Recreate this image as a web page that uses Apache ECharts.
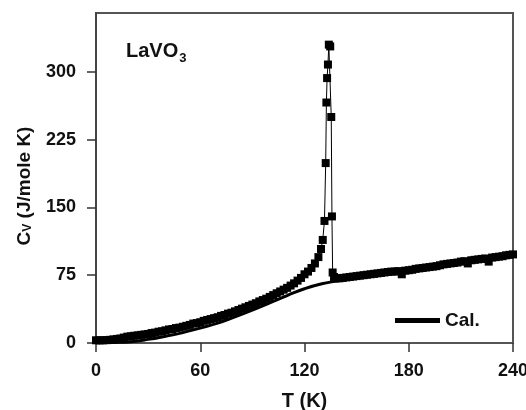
<!DOCTYPE html>
<html>
<head>
<meta charset="utf-8">
<script src="https://cdn.jsdelivr.net/npm/echarts@6/dist/echarts.min.js"></script>
<style>html,body{margin:0;padding:0;background:#fff}#c{width:526px;height:410px}</style>
</head>
<body>
<div id="c"></div>
<script>
// Measured Cv data (T in K, Cv in J/mole K)
var measT = [0,2,4,6,8,10,12,14,16,18,20,22,24,26,28,30,32,34,36,38,40,42,44,46,48,50,52,54,56,58,60,62,64,66,68,70,72,74,76,78,80,82,84,86,88,90,92,94,96,98,100,102,104,106,108,110,112,114,116,118,120,122,124,126,128,129.5,130.5,131.5,132.2,132.6,133,133.5,134,134.8,135.4,135.8,136.2,137,138,140,142,144,146,148,150,152,154,156,158,160,162,164,166,168,170,172,174,176,178,180,182,184,186,188,190,192,194,196,198,200,202,204,206,208,210,212,214,216,218,220,222,224,226,228,230,232,234,236,238,240];
var measCv = [3,3,3,3.2,3.5,4,4.5,5,6,7,7.5,8,8.5,9,9.5,10,11,11.5,12.5,13,14,15,15.5,16.5,17,18,19,20,21.5,22,23,24.5,25.5,26.5,27.5,28.5,30,31,32.5,33.5,35,36.5,38,39.5,41,42.5,44,46,47.5,49,51,53,55,57,59,61,63.5,66,69,72,76,79,83,88,95,104,114,135,199,266,293,308,330,328,250,140,78,73,71.5,71.5,72,72.5,73,73.5,74,74.5,75,75.5,76,76.5,77,77.5,78,78.5,79,79,79.5,76,80,80.5,81,82,82.5,83,83.5,84,84.5,85,86,87,87.5,88,88.5,89,90,90.5,88,91.5,92,92.5,93,93.5,90,94.5,95,95.5,96,97,97.5,98];
// Calculated Cv
var calT = [0,10,20,30,40,50,60,70,80,90,100,110,120,130,140,150,160,170,180,190,200,210,220,230,240];
var calCv = [0,0.5,1.5,4,7.5,11.5,16.5,22,29,36.5,44.5,52.5,60,65.5,69,72,75,78,81,84,87,90,93,96,99];
var xTicks = [0,60,120,180,240];
var yTicks = [0,75,150,225,300];

function pairs(a,b){var r=[];for(var i=0;i<a.length;i++)r.push([a[i],b[i]]);return r;}

var chart = echarts.init(document.getElementById('c'), null, {renderer:'canvas'});
var font = 'Liberation Sans, Arial, sans-serif';
chart.setOption({
  animation:false,
  backgroundColor:'#fff',
  title:{
    text:'{a|LaVO}{b|3}',
    left:121, top:33,
    textStyle:{rich:{
      a:{fontFamily:font,fontWeight:'bold',fontSize:20,color:'#111'},
      b:{fontFamily:font,fontWeight:'bold',fontSize:13,color:'#111',verticalAlign:'bottom',padding:[14,0,0,1]}
    }}
  },
  legend:{
    data:[{name:'Cal.',icon:'rect'}],
    left:390, top:306,
    itemWidth:45, itemHeight:5, itemGap:8,
    textStyle:{fontFamily:font,fontWeight:'bold',fontSize:19,color:'#111'}
  },
  grid:{left:96,right:13,top:13,bottom:67,outerBoundsMode:'none',containLabel:false,show:true,borderColor:'#555',borderWidth:2,backgroundColor:'transparent'},
  xAxis:{
    type:'value',min:0,max:240,interval:60,
    name:'T (K)',nameLocation:'middle',nameGap:48,
    nameTextStyle:{fontFamily:font,fontWeight:'bold',fontSize:20,color:'#111'},
    axisLine:{show:true,lineStyle:{color:'#555',width:2}},
    axisTick:{show:true,length:9,inside:false,lineStyle:{color:'#333',width:1.5},customValues:xTicks},
    axisLabel:{fontFamily:font,fontWeight:'bold',fontSize:18,color:'#111',margin:19,customValues:xTicks,hideOverlap:false},
    splitLine:{show:false}
  },
  yAxis:{
    type:'value',min:0,max:365,interval:75,
    name:'{a|C}{b|V}{a| (J/mole K)}',nameLocation:'middle',nameGap:62,nameRotate:90,
    nameTextStyle:{rich:{
      a:{fontFamily:font,fontWeight:'bold',fontSize:19,color:'#111'},
      b:{fontFamily:font,fontWeight:'bold',fontSize:12,color:'#111',padding:[7,0,0,0]}
    },padding:[0,16,0,0]},
    axisLine:{show:true,lineStyle:{color:'#444',width:2}},
    axisTick:{show:true,length:9,inside:false,lineStyle:{color:'#333',width:1.5},customValues:yTicks},
    axisLabel:{fontFamily:font,fontWeight:'bold',fontSize:18,color:'#111',margin:20,customValues:yTicks},
    splitLine:{show:false}
  },
  series:[
    {
      name:'Meas.',type:'line',data:pairs(measT,measCv),
      symbol:'rect',symbolSize:8,showSymbol:true,
      itemStyle:{color:'#000'},lineStyle:{color:'#000',width:1},
      z:3
    },
    {
      name:'Cal.',type:'line',data:pairs(calT,calCv),smooth:true,
      symbol:'none',itemStyle:{color:'#000'},lineStyle:{color:'#000',width:3},
      z:4
    }
  ]
});
</script>
</body>
</html>
